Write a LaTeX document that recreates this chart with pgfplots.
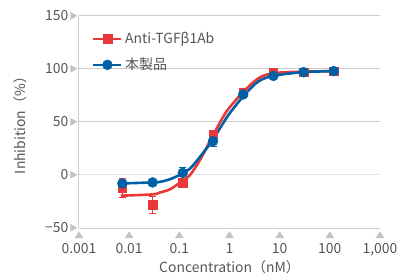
\documentclass[border=0pt]{standalone}
\usepackage{pgfplots}
\pgfplotsset{compat=1.18}
\usepackage{fontspec}
\setmainfont{Noto Sans CJK JP}
\definecolor{myred}{RGB}{232,56,58}
\definecolor{myblue}{RGB}{0,96,166}
\definecolor{txt}{RGB}{85,85,85}
\definecolor{tri}{RGB}{195,195,195}
\definecolor{gridc}{RGB}{205,205,205}
\newcommand\trir{\tikz[baseline=0pt]\fill[tri](0,1.2bp)--(0,9.2bp)--(7bp,5.2bp)--cycle;}
\newcommand\triu{\tikz[baseline=0pt]\fill[tri](0,0)--(9bp,0)--(4.5bp,7bp)--cycle;}
\begin{document}
\begin{tikzpicture}
\begin{axis}[
  scale only axis, width=301bp, height=212bp,
  xmode=log, xmin=0.001, xmax=1000, ymin=-50, ymax=150,
  axis x line*=bottom, axis y line*=left,
  axis line style={gridc, line width=1bp, -},
  xtick={0.001,0.01,0.1,1,10,100,1000},
  xticklabels={{\triu\\0.001},{\triu\\0.01},{\triu\\0.1},{\triu\\1},{\triu\\10},{\triu\\100},{\triu\\1,000}},
  xticklabel style={align=center, inner sep=0pt, yshift=-3bp, font=\fontsize{14}{15}\selectfont, text=txt},
  xminorticks=false, yminorticks=false,
  ytick={-50,50,100,150},
  yticklabels={{−50\hspace{2bp}\trir},{50\hspace{2bp}\trir},{100\hspace{2bp}\trir},{150\hspace{2bp}\trir}},
  extra y ticks={0}, extra y tick labels={{0\hspace{2bp}\trir}},
  extra y tick style={grid style={densely dotted, gridc, line width=1bp}},
  yticklabel style={inner sep=0pt, xshift=-1.5bp, font=\fontsize{14}{15}\selectfont, text=txt},
  ymajorgrids, grid style={gridc, line width=1bp},
  major tick length=0pt,
  xlabel={Concentration（nM）},
  ylabel={Inhibition（\%）},
  every axis x label/.style={at={([yshift=-39bp]rel axis cs:0.5,0)}, anchor=center, font=\fontsize{14}{16}\selectfont, text=txt},
  every axis y label/.style={at={([xshift=-59bp]rel axis cs:0,0.5)}, anchor=center, rotate=90, font=\fontsize{14}{16}\selectfont, text=txt},
  legend style={at={(rel axis cs:0.043,0.935)}, anchor=north west, draw=none, fill=none,
    font=\fontsize{14}{16}\selectfont, text=txt, row sep=8bp, inner sep=0pt, cells={anchor=west},
    nodes={inner sep=2.5bp}},
  legend image code/.code={\draw[mark repeat=2,mark phase=2] plot coordinates {(0bp,0bp)(14bp,0bp)(28bp,0bp)};},
]
\addlegendimage{myred, line width=2.6bp, mark=square*, mark size=4.3bp, mark options={solid, line width=0.4bp}}
\addlegendentry{Anti-TGFβ1Ab}
\addlegendimage{myblue, line width=2.6bp, mark=*, mark size=5bp, mark options={solid, line width=0.4bp}}
\addlegendentry{本製品}

\addplot[myred, line width=2.6bp, smooth, forget plot] coordinates {
(0.0068,-19.5) (0.0293,-18.3) (0.041,-16.5) (0.065,-13.5) (0.112,-6) (0.163,0) (0.257,14)
(0.44,35) (0.69,52) (0.94,62) (1.84,78) (3.7,91) (7.4,96) (29,97.5) (120,98)};

\addplot[myred, only marks, mark=square*, mark size=4.3bp, mark options={solid, line width=0.4bp}, forget plot,
  error bars/.cd, y dir=both, y explicit,
  error bar style={line width=1.3bp, myred},
  error mark options={rotate=90, mark size=3.5bp, line width=1.3bp, myred}]
coordinates {
(0.00732,-12) +- (0,9)
(0.0293,-28) +- (0,8)
(0.117,-7) +- (0,2)
(0.469,38) +- (0,3)
(1.875,78) +- (0,2)
(7.5,96.5) +- (0,1.5)
(30,97) +- (0,1)
(120,98) +- (0,1)};

\addplot[myblue, line width=2.6bp, smooth, forget plot] coordinates {
(0.0069,-8) (0.0293,-7) (0.041,-6.5) (0.065,-4) (0.112,1) (0.163,6) (0.257,17)
(0.44,31.5) (0.75,49) (1.0,58) (1.94,75) (3.7,88) (7.4,93.5) (29,97) (120,98)};

\addplot[myblue, only marks, mark=*, mark size=5bp, mark options={solid, line width=0.4bp}, forget plot,
  error bars/.cd, y dir=both, y explicit,
  error bar style={line width=1.3bp, myblue},
  error mark options={rotate=90, mark size=3.5bp, line width=1.3bp, myblue}]
coordinates {
(0.00732,-8) +- (0,3)
(0.0293,-7) +- (0,1.5)
(0.117,2) +- (0,5)
(0.469,32) +- (0,5)
(1.875,76) +- (0,2)
(7.5,93.5) +- (0,1)
(30,97) +- (0,1)
(120,98) +- (0,1)};
\end{axis}
\pgfresetboundingbox
\path (-79bp,-46bp) rectangle (321bp,228bp);
\end{tikzpicture}
\end{document}
